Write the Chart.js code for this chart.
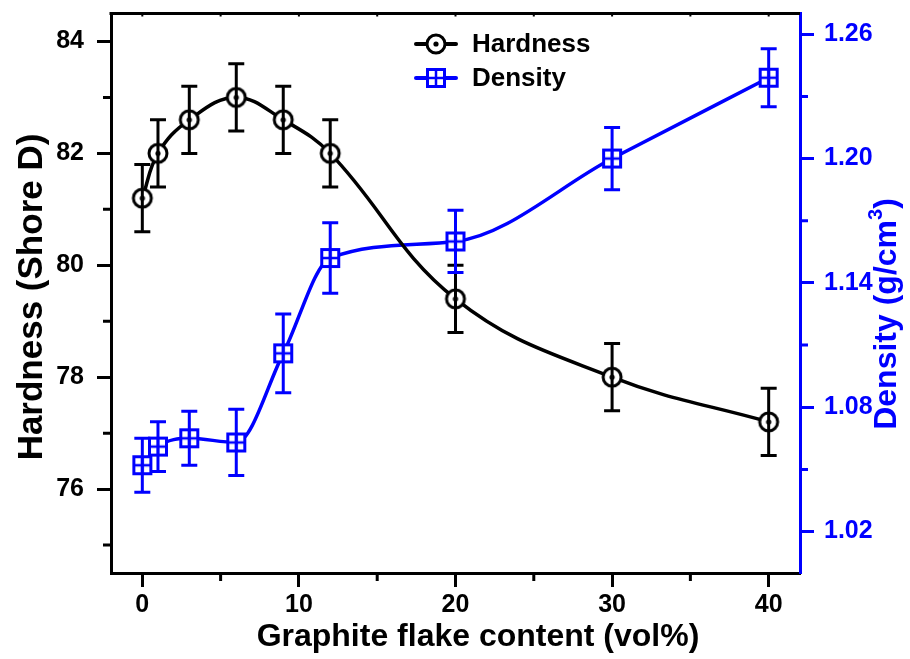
<!DOCTYPE html>
<html>
<head>
<meta charset="utf-8">
<script src="https://cdn.jsdelivr.net/npm/chart.js@4.4.0/dist/chart.umd.min.js"></script>
<style>
html, body { margin: 0; padding: 0; background: #fff; }
#wrap { width: 910px; height: 659px; }
</style>
</head>
<body>
<div id="wrap"><canvas id="chart" width="910" height="659"></canvas></div>
<script>
// data
var contents = [0, 1, 3, 6, 9, 12, 20, 30, 40];
var hardness = [81.2, 82.0, 82.6, 83.0, 82.6, 82.0, 79.4, 78.0, 77.2];
var hardnessErr = [0.6, 0.6, 0.6, 0.6, 0.6, 0.6, 0.6, 0.6, 0.6];
var density = [1.052, 1.061, 1.065, 1.063, 1.106, 1.152, 1.160, 1.200, 1.239];
var densityErr = [0.013, 0.012, 0.013, 0.016, 0.019, 0.017, 0.015, 0.015, 0.014];

var xTicks = [0, 10, 20, 30, 40];
var xMinor = [5, 15, 25, 35];
var hardTicks = [76, 78, 80, 82, 84];
var hardMinor = [75, 77, 79, 81, 83];
var densTicks = [1.02, 1.08, 1.14, 1.20, 1.26];
var densMinor = [1.05, 1.11, 1.17, 1.23];

var BLUE = '#0000ff';
var FONT = "'Liberation Sans', Arial, sans-serif";

function makeCircle() {
    var c = document.createElement('canvas');
    c.width = 26; c.height = 26;
    var g = c.getContext('2d');
    g.beginPath();
    g.arc(13, 13, 9, 0, Math.PI * 2);
    g.fillStyle = '#fff';
    g.fill();
    g.lineWidth = 3;
    g.strokeStyle = '#000';
    g.stroke();
    g.beginPath();
    g.arc(13, 13, 2.6, 0, Math.PI * 2);
    g.fillStyle = '#000';
    g.fill();
    return c;
}

function makeSquare() {
    var c = document.createElement('canvas');
    c.width = 24; c.height = 24;
    var g = c.getContext('2d');
    g.fillStyle = '#fff';
    g.fillRect(3, 3, 18, 18);
    g.lineWidth = 3;
    g.strokeStyle = BLUE;
    g.strokeRect(3.5, 3.5, 17, 17);
    g.lineWidth = 2.5;
    g.beginPath();
    g.moveTo(12, 4); g.lineTo(12, 20);
    g.moveTo(4, 12); g.lineTo(20, 12);
    g.stroke();
    return c;
}

var circleImg = makeCircle();
var squareImg = makeSquare();

function setTicks(values) {
    return function (scale) {
        scale.ticks = values.map(function (v) { return { value: v }; });
    };
}

function noPad(s) {
    s.paddingTop = 0; s.paddingBottom = 0;
    s.paddingLeft = 0; s.paddingRight = 0;
}

var extras = {
    id: 'extras',
    afterDatasetsDraw: function (chart) {
        var ctx = chart.ctx;
        var xs = chart.scales.x;
        var sets = [
            { vals: hardness, err: hardnessErr, scale: chart.scales.y, color: '#000' },
            { vals: density, err: densityErr, scale: chart.scales.y1, color: BLUE }
        ];
        ctx.save();
        ctx.lineWidth = 3;
        sets.forEach(function (s) {
            ctx.strokeStyle = s.color;
            for (var i = 0; i < contents.length; i++) {
                var px = xs.getPixelForValue(contents[i]);
                var top = s.scale.getPixelForValue(s.vals[i] + s.err[i]);
                var bot = s.scale.getPixelForValue(s.vals[i] - s.err[i]);
                ctx.beginPath();
                ctx.moveTo(px, top); ctx.lineTo(px, bot);
                ctx.moveTo(px - 8, top); ctx.lineTo(px + 8, top);
                ctx.moveTo(px - 8, bot); ctx.lineTo(px + 8, bot);
                ctx.stroke();
            }
        });
        ctx.restore();
    },
    afterDraw: function (chart) {
        var ctx = chart.ctx;
        var a = chart.chartArea;
        var xs = chart.scales.x, ys = chart.scales.y, ys1 = chart.scales.y1;
        ctx.save();
        // top frame line
        ctx.strokeStyle = '#000';
        ctx.lineWidth = 3;
        ctx.beginPath();
        ctx.moveTo(a.left - 1.5, a.top);
        ctx.lineTo(a.right, a.top);
        ctx.stroke();
        // small inward ticks on top
        ctx.lineWidth = 2;
        ctx.beginPath();
        xTicks.concat(xMinor).forEach(function (v) {
            var px = xs.getPixelForValue(v);
            ctx.moveTo(px, a.top); ctx.lineTo(px, a.top + 3);
        });
        ctx.stroke();
        // minor ticks
        ctx.lineWidth = 3;
        ctx.beginPath();
        xMinor.forEach(function (v) {
            var px = xs.getPixelForValue(v);
            ctx.moveTo(px, a.bottom); ctx.lineTo(px, a.bottom + 8);
        });
        hardMinor.forEach(function (v) {
            var py = ys.getPixelForValue(v);
            ctx.moveTo(a.left, py); ctx.lineTo(a.left - 8, py);
        });
        ctx.stroke();
        ctx.strokeStyle = BLUE;
        ctx.beginPath();
        densMinor.forEach(function (v) {
            var py = ys1.getPixelForValue(v);
            ctx.moveTo(a.right, py); ctx.lineTo(a.right + 8, py);
        });
        ctx.stroke();

        // axis titles
        ctx.fillStyle = '#000';
        ctx.font = 'bold 32px ' + FONT;
        ctx.textAlign = 'center';
        ctx.textBaseline = 'middle';
        ctx.fillText('Graphite flake content (vol%)', 478, 637);

        ctx.save();
        ctx.translate(32, 297);
        ctx.rotate(-Math.PI / 2);
        ctx.font = 'bold 35px ' + FONT;
        ctx.fillText('Hardness (Shore D)', 0, 0);
        ctx.restore();

        // right title with superscript
        ctx.save();
        ctx.translate(887, 314);
        ctx.rotate(-Math.PI / 2);
        ctx.fillStyle = BLUE;
        var big = 'bold 32px ' + FONT, small = 'bold 20px ' + FONT;
        ctx.font = big;
        var p1 = 'Density (g/cm', p3 = ')';
        var w1 = ctx.measureText(p1).width, w3 = ctx.measureText(p3).width;
        ctx.font = small;
        var w2 = ctx.measureText('3').width;
        var start = -(w1 + w2 + w3) / 2;
        ctx.textAlign = 'left';
        ctx.font = big;
        ctx.fillText(p1, start, 0);
        ctx.font = small;
        ctx.fillText('3', start + w1, -11);
        ctx.font = big;
        ctx.fillText(p3, start + w1 + w2, 0);
        ctx.restore();

        // legend
        var items = [
            { label: 'Hardness', color: '#000', img: circleImg, y: 44 },
            { label: 'Density', color: BLUE, img: squareImg, y: 78 }
        ];
        items.forEach(function (it) {
            ctx.strokeStyle = it.color;
            ctx.lineWidth = 4;
            ctx.lineCap = 'round';
            ctx.beginPath();
            ctx.moveTo(416, it.y); ctx.lineTo(456, it.y);
            ctx.stroke();
            ctx.drawImage(it.img, 436 - it.img.width / 2, it.y - it.img.height / 2);
            ctx.fillStyle = '#000';
            ctx.font = 'bold 26px ' + FONT;
            ctx.textAlign = 'left';
            ctx.textBaseline = 'middle';
            ctx.fillText(it.label, 472, it.y + 1);
        });
        ctx.restore();
    }
};

var tickFont = { family: FONT, size: 25, weight: 'bold' };

var chart = new Chart(document.getElementById('chart'), {
    type: 'line',
    data: {
        datasets: [{
            label: 'Hardness',
            data: contents.map(function (x, i) { return { x: x, y: hardness[i] }; }),
            yAxisID: 'y',
            borderColor: '#000',
            borderWidth: 3.5,
            tension: 0.4,
            pointStyle: circleImg,
            pointRadius: 10,
            clip: false
        }, {
            label: 'Density',
            data: contents.map(function (x, i) { return { x: x, y: density[i] }; }),
            yAxisID: 'y1',
            borderColor: BLUE,
            borderWidth: 3.5,
            cubicInterpolationMode: 'monotone',
            pointStyle: squareImg,
            pointRadius: 10,
            clip: false
        }]
    },
    options: {
        responsive: false,
        animation: false,
        devicePixelRatio: 1,
        layout: { padding: { top: 11, left: 0, right: 0, bottom: 0 } },
        plugins: { legend: { display: false }, tooltip: { enabled: false } },
        scales: {
            x: {
                type: 'linear',
                position: 'bottom',
                min: -2, max: 42,
                afterBuildTicks: setTicks(xTicks),
                afterFit: function (s) { s.height = 86; noPad(s); },
                grid: { drawOnChartArea: false, tickLength: 14, tickWidth: 3, tickColor: '#000' },
                border: { display: true, width: 3, color: '#000' },
                ticks: { font: tickFont, color: '#000', padding: 3, maxRotation: 0 }
            },
            y: {
                type: 'linear',
                position: 'left',
                min: 74.5, max: 84.5,
                afterBuildTicks: setTicks(hardTicks),
                afterFit: function (s) { s.width = 111; noPad(s); },
                grid: { drawOnChartArea: false, tickLength: 14, tickWidth: 3, tickColor: '#000' },
                border: { display: true, width: 3, color: '#000' },
                ticks: { font: tickFont, color: '#000', padding: 13 }
            },
            y1: {
                type: 'linear',
                position: 'right',
                min: 1.0, max: 1.27,
                afterBuildTicks: setTicks(densTicks),
                afterFit: function (s) { s.width = 110; noPad(s); },
                grid: { drawOnChartArea: false, tickLength: 14, tickWidth: 3, tickColor: BLUE },
                border: { display: true, width: 3, color: BLUE },
                ticks: {
                    font: tickFont, color: BLUE, padding: 10,
                    callback: function (v) { return v.toFixed(2); }
                }
            }
        }
    },
    plugins: [extras]
});
</script>
</body>
</html>
